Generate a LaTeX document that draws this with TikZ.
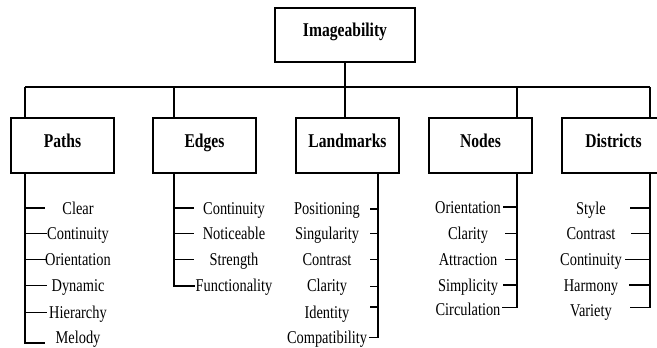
\documentclass[tikz,border=0pt]{standalone}
\usepackage{fontspec}
\setmainfont{Liberation Serif}[FakeStretch=0.8]
\begin{document}
\begin{tikzpicture}[x=1pt,y=-1pt,
  box/.style={draw, line width=1.8pt, minimum width=103pt, minimum height=55pt,
    inner sep=0pt, font=\fontsize{19.5}{22}\selectfont\bfseries,
    text height=13pt, text depth=9pt},
  item/.style={inner sep=0pt, anchor=base, font=\fontsize{18}{20}\selectfont},
  bus/.style={line width=1.5pt},
  tick/.style={line width=1.2pt}]
\path[use as bounding box] (0,0) rectangle (657,348);
\clip (0,0) rectangle (657,348);

% boxes
\node[box, minimum width=140pt, minimum height=54pt] (img) at (345,35) {Imageability};
\node[box] (paths) at (62.5,145.5) {Paths};
\node[box] (edges) at (204.5,145.5) {Edges};
\node[box] (land) at (347.5,145.5) {Landmarks};
\node[box] (nodes) at (480.5,145.5) {Nodes};
\node[box] (dist) at (613.5,145.5) {Districts};

% bus
\coordinate (bL) at (25,87);
\coordinate (bE) at (174,87);
\coordinate (bN) at (517,87);
\coordinate (bR) at (650,87);
\coordinate (bM) at (img.south |- bL);
\draw[bus] (img.south) -- (bM);
\draw[bus] (bL) -- (bR);
\draw[bus] (bL) -- (bL |- paths.north);
\draw[bus] (bE) -- (bE |- edges.north);
\draw[bus] (bM) -- (bM |- land.north);
\draw[bus] (bN) -- (bN |- nodes.north);
\draw[bus] (bR) -- (bR |- dist.north);

% Paths items
\node[item] (p1) at (78,214) {Clear};
\node[item] (p2) at (78,239.5) {Continuity};
\node[item] (p3) at (78,265.5) {Orientation};
\node[item] (p4) at (78,291.5) {Dynamic};
\node[item] (p5) at (78,318) {Hierarchy};
\node[item] (p6) at (78,343) {Melody};
\coordinate (pv) at (bL |- paths.south);
\draw[tick] (pv) -- (25,343) -- (45,343);
\draw[tick] (25,208) -- (45,208);
\draw[tick] (25,233.5) -- (47,233.5);
\draw[tick] (25,259.5) -- (47,259.5);
\draw[tick] (25,285.5) -- (47,285.5);
\draw[tick] (25,312.5) -- (47,312.5);

% Edges items
\node[item] (e1) at (234,214) {Continuity};
\node[item] (e2) at (234,239.5) {Noticeable};
\node[item] (e3) at (234,265.5) {Strength};
\node[item] (e4) at (234,291.5) {Functionality};
\coordinate (ev) at (bE |- edges.south);
\draw[tick] (ev) -- (174,286) -- (195,286);
\draw[tick] (174,208) -- (194,208);
\draw[tick] (174,233.5) -- (194,233.5);
\draw[tick] (174,259.5) -- (194,259.5);

% Landmarks items
\node[item] (l1) at (327,214) {Positioning};
\node[item] (l2) at (327,239.5) {Singularity};
\node[item] (l3) at (327,265.5) {Contrast};
\node[item] (l4) at (327,291.5) {Clarity};
\node[item] (l5) at (327,318) {Identity};
\node[item] (l6) at (327,343) {Compatibility};
\coordinate (lv) at (378,173);
\draw[tick] (lv) -- (378,337.5) -- (368.5,337.5);
\draw[tick] (370,209) -- (378,209);
\draw[tick] (370,233.5) -- (378,233.5);
\draw[tick] (370,259.5) -- (378,259.5);
\draw[tick] (370,286.5) -- (378,286.5);
\draw[tick] (370,307) -- (378,307);

% Nodes items
\node[item] (n1) at (468,213) {Orientation};
\node[item] (n2) at (468,239.5) {Clarity};
\node[item] (n3) at (468,265.5) {Attraction};
\node[item] (n4) at (468,291.5) {Simplicity};
\node[item] (n5) at (468,315) {Circulation};
\coordinate (nv) at (bN |- nodes.south);
\draw[tick] (nv) -- (517,307.5) -- (502,307.5);
\draw[tick] (503,207) -- (517,207);
\draw[tick] (505,233.5) -- (517,233.5);
\draw[tick] (505,259.5) -- (517,259.5);
\draw[tick] (503,285) -- (517,285);

% Districts items
\node[item] (d1) at (591,214) {Style};
\node[item] (d2) at (591,239.5) {Contrast};
\node[item] (d3) at (591,265.5) {Continuity};
\node[item] (d4) at (591,291.5) {Harmony};
\node[item] (d5) at (591,316) {Variety};
\coordinate (dv) at (bR |- dist.south);
\draw[tick] (dv) -- (650,307.5) -- (630,307.5);
\draw[tick] (630,208) -- (650,208);
\draw[tick] (631,233.5) -- (650,233.5);
\draw[tick] (625,259.5) -- (650,259.5);
\draw[tick] (629,285) -- (650,285);
\end{tikzpicture}
\end{document}
